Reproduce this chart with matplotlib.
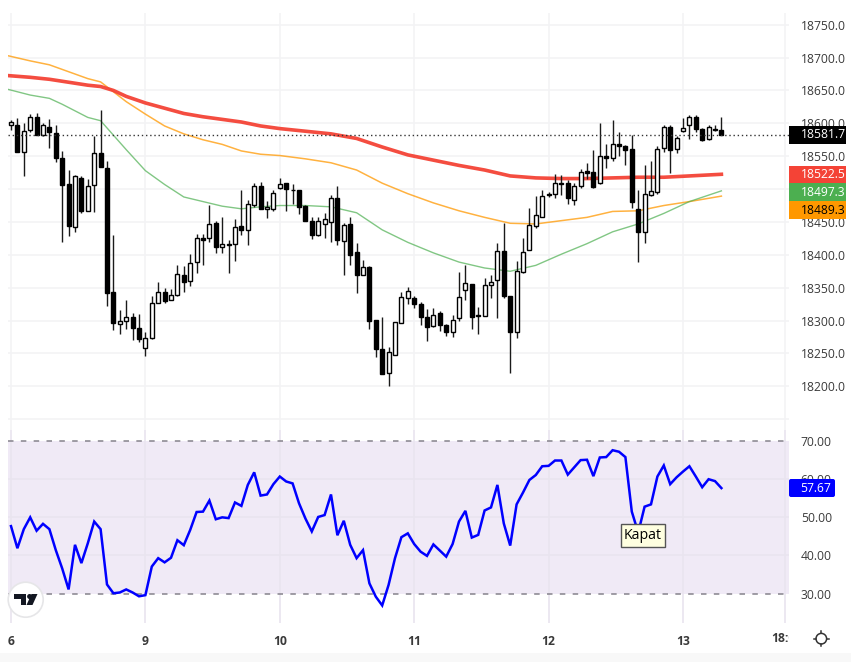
import matplotlib
matplotlib.use("Agg")
import matplotlib.pyplot as plt
from matplotlib.patches import Rectangle, Circle, Polygon, FancyBboxPatch

plt.rcParams['font.family'] = ['Open Sans', 'DejaVu Sans']

W, H = 851, 662

# hourly candles, 6 to 13
opens = [18598, 18597, 18556, 18590, 18610, 18583, 18595, 18586, 18548, 18508, 18443, 18517, 18467, 18506, 18555, 18532,
         18343, 18295, 18300, 18305, 18289, 18258, 18273, 18327, 18344, 18332, 18339, 18370, 18360, 18389, 18425, 18425,
         18448, 18412, 18417, 18417, 18444, 18438, 18476, 18505, 18469, 18470, 18502, 18509, 18499, 18498, 18475, 18451,
         18430, 18447, 18450, 18487, 18421, 18447, 18405, 18370, 18382, 18301, 18257, 18221, 18248, 18297, 18335, 18334,
         18325, 18306, 18292, 18311, 18293, 18282, 18304, 18346, 18356, 18309, 18307, 18354, 18361, 18406, 18337, 18283,
         18374, 18408, 18444, 18458, 18493, 18493, 18509, 18509, 18484, 18504, 18527, 18526, 18509, 18550, 18548, 18568,
         18565, 18561, 18469, 18434, 18491, 18496, 18562, 18595, 18561, 18588, 18597, 18610, 18592, 18576, 18592, 18590]
highs = [18605, 18608, 18600, 18614, 18615, 18600, 18606, 18597, 18558, 18529, 18522, 18520, 18515, 18580, 18620, 18542,
         18430, 18316, 18331, 18311, 18310, 18282, 18338, 18358, 18349, 18348, 18385, 18383, 18402, 18431, 18431, 18476,
         18452, 18458, 18423, 18454, 18499, 18483, 18509, 18511, 18482, 18499, 18517, 18510, 18507, 18499, 18476, 18458,
         18458, 18464, 18491, 18504, 18449, 18457, 18418, 18392, 18383, 18301, 18306, 18260, 18298, 18343, 18351, 18338,
         18328, 18318, 18319, 18314, 18295, 18309, 18374, 18385, 18356, 18321, 18365, 18369, 18418, 18448, 18337, 18390,
         18425, 18471, 18489, 18499, 18496, 18523, 18521, 18514, 18509, 18531, 18539, 18560, 18600, 18569, 18605, 18587,
         18567, 18582, 18499, 18537, 18542, 18566, 18598, 18597, 18580, 18608, 18612, 18612, 18593, 18598, 18597, 18609]
lows = [18590, 18557, 18520, 18587, 18583, 18580, 18563, 18541, 18420, 18428, 18435, 18463, 18467, 18465, 18533, 18322,
        18285, 18280, 18287, 18271, 18267, 18246, 18272, 18326, 18326, 18331, 18338, 18343, 18353, 18373, 18385, 18419,
        18403, 18403, 18372, 18391, 18430, 18415, 18473, 18469, 18456, 18466, 18500, 18466, 18478, 18462, 18451, 18424,
        18428, 18426, 18420, 18415, 18370, 18385, 18342, 18370, 18287, 18244, 18219, 18200, 18248, 18297, 18325, 18319,
        18293, 18269, 18290, 18284, 18277, 18275, 18299, 18331, 18287, 18279, 18307, 18334, 18304, 18334, 18220, 18273,
        18373, 18407, 18441, 18457, 18488, 18487, 18491, 18478, 18476, 18501, 18515, 18501, 18508, 18532, 18542, 18550,
        18536, 18471, 18389, 18418, 18489, 18493, 18557, 18525, 18555, 18587, 18576, 18587, 18573, 18575, 18589, 18582]
closes = [18602, 18557, 18589, 18610, 18583, 18597, 18587, 18548, 18506, 18444, 18520, 18467, 18504, 18555, 18534, 18342,
          18297, 18299, 18305, 18289, 18272, 18274, 18326, 18344, 18330, 18339, 18371, 18358, 18388, 18425, 18423, 18447,
          18412, 18417, 18415, 18443, 18438, 18478, 18505, 18470, 18472, 18494, 18507, 18500, 18498, 18472, 18451, 18430,
          18451, 18455, 18486, 18422, 18445, 18399, 18370, 18382, 18300, 18257, 18219, 18252, 18298, 18336, 18345, 18325,
          18305, 18291, 18309, 18294, 18282, 18301, 18336, 18357, 18305, 18307, 18354, 18359, 18406, 18337, 18282, 18375,
          18405, 18446, 18461, 18490, 18491, 18509, 18507, 18486, 18504, 18526, 18525, 18503, 18550, 18548, 18568, 18566,
          18560, 18481, 18434, 18493, 18497, 18561, 18595, 18560, 18577, 18593, 18610, 18592, 18575, 18594, 18590, 18581.7]

ma_idx = [-1, 3, 6, 8, 10, 12, 14, 16, 18, 21, 24, 27, 30, 33, 36, 39, 42, 46, 50, 54, 58, 62, 66, 70, 74, 78,
          82, 86, 90, 94, 98, 102, 106, 111]
ma_red = [18673, 18670, 18667, 18664, 18661, 18658, 18656, 18650, 18641, 18631, 18623, 18615, 18610, 18606, 18602, 18596,
          18592, 18588, 18584, 18577, 18564, 18552, 18544, 18536, 18529, 18520, 18517, 18516, 18516, 18517, 18518, 18518,
          18520, 18522.5]
ma_orange = [18704, 18695, 18689, 18682, 18675, 18668, 18663, 18648, 18633, 18614, 18596, 18584, 18575, 18568, 18558, 18553,
             18551, 18546, 18540, 18529, 18509, 18493, 18479, 18467, 18457, 18448, 18447, 18452, 18457, 18466, 18467, 18475,
             18481, 18489.3]
ma_green = [18653, 18643, 18638, 18629, 18619, 18609, 18604, 18582, 18560, 18528, 18507, 18488, 18481, 18474, 18470, 18473,
            18475, 18475, 18473, 18464, 18438, 18419, 18403, 18389, 18380, 18375, 18384, 18401, 18417, 18435, 18447, 18463,
            18481, 18497.3]

rsi = [47.7, 41.9, 46.9, 50.0, 46.5, 48.3, 46.9, 41.4, 36.6, 31.1, 42.8, 38.0, 43.2, 48.9, 46.9, 32.4,
       30.1, 30.3, 31.1, 30.3, 29.3, 29.6, 37.1, 39.3, 38.2, 39.4, 44.0, 42.7, 46.7, 51.4, 51.5, 54.4,
       49.5, 50.0, 49.8, 53.9, 53.0, 58.5, 61.8, 55.7, 56.0, 58.7, 60.7, 59.4, 58.9, 53.7, 49.7, 46.3,
       50.1, 50.6, 56.0, 45.3, 49.1, 42.8, 39.3, 41.4, 32.7, 29.2, 26.9, 32.3, 39.3, 44.8, 45.8, 43.0,
       41.0, 39.9, 42.9, 41.3, 39.7, 43.0, 48.9, 51.7, 44.7, 45.4, 51.8, 52.6, 58.5, 48.4, 42.6, 53.4,
       56.5, 59.8, 61.1, 63.4, 63.5, 64.9, 64.9, 61.2, 63.1, 65.0, 65.1, 60.8, 65.7, 65.8, 67.6, 67.2,
       65.8, 51.5, 46.0, 52.8, 53.4, 60.7, 63.6, 58.7, 60.5, 62.0, 63.4, 60.7, 57.9, 60.0, 59.5, 57.67]

price_ticks = [18200, 18250, 18300, 18350, 18400, 18450, 18500, 18550, 18600, 18650, 18700, 18750]
rsi_ticks = [30, 40, 50, 60, 70]
day_pos = [0, 21, 42, 63, 84, 105]
day_labels = ['6', '9', '10', '11', '12', '13']
last_price = 18581.7

GRID = '#f3f3f5'
GRID_RSI = '#e9e4ef'
TXT = '#3a3a3a'


def pane(left, top, right, bottom):
    return fig.add_axes([left / W, 1 - bottom / H, (right - left) / W, (bottom - top) / H])


fig = plt.figure(figsize=(W / 100, H / 100), dpi=100, facecolor='white')
ax = pane(8, 13, 789, 430)
ax2 = pane(8, 430, 789, 623)

# 6.4 px per candle, first candle at x=11
xlim = ((8 - 11) / 6.4, (789 - 11) / 6.4)
grid_x = day_pos + [121]

for a in (ax, ax2):
    a.set_xlim(xlim)
    a.set_facecolor('none')
    for s in a.spines.values():
        s.set_visible(False)
    a.yaxis.tick_right()
    a.tick_params(length=0, labelsize=8.7, labelcolor=TXT, pad=8.5)
    a.set_axisbelow(True)

# price pane
ax.set_ylim(18133.6, 18767.8)
ax.set_yticks(price_ticks)
ax.set_yticklabels([f'{v:.1f}' for v in price_ticks])
ax.set_xticks([])
for v in grid_x:
    ax.axvline(v, color=GRID, lw=1.2, zorder=0)
for v in price_ticks + [18150]:
    ax.axhline(v, color=GRID, lw=1.2, zorder=0)

ax.plot(ma_idx, ma_orange, color='#ff9800', lw=1.1, alpha=0.75, zorder=2)
ax.plot(ma_idx, ma_green, color='#4caf50', lw=1.0, alpha=0.7, zorder=2)
ax.plot(ma_idx, ma_red, color='#f44336', lw=2.6, alpha=0.95, zorder=2)

xs = list(range(len(opens)))
ax.vlines(xs, lows, highs, color='#1a1a1a', lw=1.0, zorder=3)
for i in xs:
    up = closes[i] >= opens[i]
    ax.bar(i, abs(closes[i] - opens[i]), bottom=min(opens[i], closes[i]), width=0.62,
           color='white' if up else 'black', edgecolor='black', lw=1.0, zorder=4)

ax.axhline(last_price, color='#333333', lw=1.0, ls=(0, (1, 2)), zorder=5)

# rsi pane
ax2.set_ylim(22.3, 72.9)
ax2.set_yticks(rsi_ticks)
ax2.set_yticklabels([f'{v:.2f}' for v in rsi_ticks])
ax2.axhspan(30, 70, color='#f0eaf6', lw=0, zorder=0)
for v in grid_x:
    ax2.axvline(v, color=GRID_RSI, lw=1.2, zorder=0.5)
for v in [40, 50, 60]:
    ax2.axhline(v, color=GRID_RSI, lw=1.2, zorder=0.5)
for v in [30, 70]:
    ax2.axhline(v, color='#85828c', lw=1.1, ls=(0, (3.6, 4.8)), zorder=1)
ax2.plot(xs, rsi, color='#0000ff', lw=1.8, zorder=3, solid_joinstyle='miter')
ax2.set_xticks(day_pos)
ax2.set_xticklabels(day_labels, fontweight='bold', fontsize=8.7, color=TXT)
ax2.tick_params(axis='x', pad=8.5)

# overlay in pixel coordinates for labels, tooltip and logo
px = fig.add_axes([0, 0, 1, 1], zorder=5)
px.set_xlim(0, W)
px.set_ylim(H, 0)
px.axis('off')
px.patch.set_alpha(0)

px.add_patch(Rectangle((0, 653), W, 9, color='#f8f8f8', lw=0, zorder=0))

# last values on the scale
for top, bottom, bg, fg, label in [(126, 144, 'black', 'white', '18581.7'),
                                   (166, 183, '#f44336', 'white', '18522.5'),
                                   (183, 201, '#4caf50', 'white', '18497.3'),
                                   (201, 219, '#ff9800', 'black', '18489.3')]:
    px.add_patch(Rectangle((789, top), 57, bottom - top, color=bg, lw=0, zorder=2))
    px.text(801, (top + bottom) / 2, label, color=fg, fontsize=8.7, va='center', ha='left', zorder=3)

px.add_patch(FancyBboxPatch((789, 479), 46, 18, boxstyle='round,pad=0,rounding_size=2', color='#0000ff', lw=0, zorder=2))
px.text(800, 488, '57.67', color='white', fontsize=8.7, va='center', ha='left', zorder=3)

# tooltip
px.add_patch(Rectangle((620.5, 523.5), 44, 23, facecolor='#ffffe0', edgecolor='#555555', lw=1, zorder=4))
px.text(642.5, 535.5, 'Kapat', color='black', fontsize=10.2, va='center', ha='center', zorder=5)

# clipped time label
t = px.text(771, 638, '18:00', color=TXT, fontsize=8.7, fontweight='bold', va='center', ha='left')
t.set_clip_on(True)
t.set_clip_path(Rectangle((700, 620), 89, 40, transform=px.transData))

# logo
px.add_patch(Circle((25.7, 599.7), 17.5, facecolor='white', edgecolor='#e6e6e8', lw=1.2, zorder=4))
px.add_patch(Polygon([(14, 594), (26, 594), (26, 605), (20.5, 605), (20.5, 599), (14, 599)], color='#131722', lw=0, zorder=5))
px.add_patch(Circle((29.6, 596.5), 2.5, color='#131722', lw=0, zorder=5))
px.add_patch(Polygon([(31.5, 594), (37.5, 594), (32.5, 605), (26.5, 605)], color='#131722', lw=0, zorder=5))

# sun icon
cx, cy = 821.3, 638.7
px.add_patch(Circle((cx, cy), 5.3, facecolor='white', edgecolor='#333333', lw=1.1, zorder=4))
for dx, dy in [(1, 0), (-1, 0), (0, 1), (0, -1)]:
    px.plot([cx + dx * 5.3, cx + dx * 7.6], [cy + dy * 5.3, cy + dy * 7.6], color='#333333', lw=1.1, zorder=4)

fig.savefig('out.png', dpi=100)
